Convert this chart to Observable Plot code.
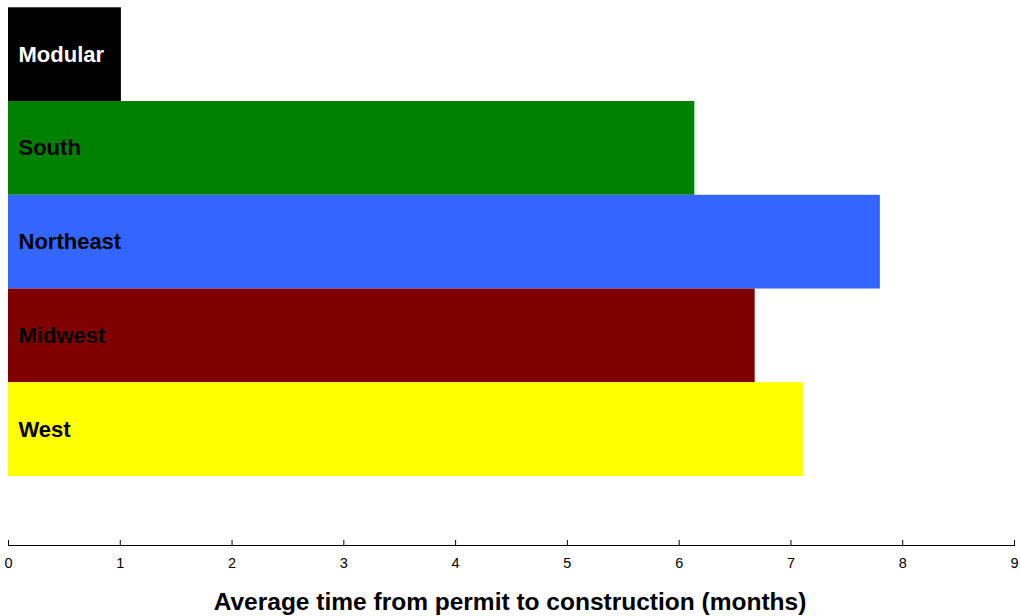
<!DOCTYPE html>
<html>
<head>
<meta charset="utf-8">
<script src="https://cdn.jsdelivr.net/npm/d3@7"></script>
<script src="https://cdn.jsdelivr.net/npm/@observablehq/plot@0.6"></script>
<style>
  body { margin: 0; background: #fff; font-family: "Liberation Sans", Arial, sans-serif; }
  #title { width: 1020px; text-align: center; font-weight: bold; font-size: 24.5px; line-height: 28px; color: #000; }
</style>
</head>
<body>
<div id="chart"></div>
<div id="title">Average time from permit to construction (months)</div>
<script>
const regions = ["Modular", "South", "Northeast", "Midwest", "West"];
const months = [1.01, 6.14, 7.8, 6.68, 7.11];
const barColors = ["#000000", "#008000", "#3366ff", "#800000", "#ffff00"];
const labelColors = ["#ffffff", "#000000", "#000000", "#000000", "#000000"];
const xTicks = [0, 1, 2, 3, 4, 5, 6, 7, 8, 9];

const data = regions.map((r, i) => ({region: r, value: months[i], fill: barColors[i], label: labelColors[i]}));

const chart = Plot.plot({
  width: 1020,
  height: 588,
  marginLeft: 8,
  marginRight: 6,
  marginTop: 0,
  marginBottom: 43,
  style: {fontFamily: "'Liberation Sans', Arial, sans-serif", background: "#fff"},
  x: {domain: [0, 9], axis: null},
  y: {domain: regions, range: [7.3, 476], padding: 0, round: false, axis: null},
  marks: [
    Plot.barX(data, {x: "value", y: "region", fill: "fill"}),
    Plot.text(data, {x: 0, y: "region", text: "region", fill: "label", textAnchor: "start", dx: 10, fontSize: 22, fontWeight: "bold"}),
    Plot.frame({anchor: "bottom", stroke: "#000"}),
    Plot.axisX(xTicks, {anchor: "bottom", tickSize: -5, tickFormat: () => "", label: null, stroke: "#000"}),
    Plot.text(xTicks, {x: d => d, text: d => String(d), frameAnchor: "bottom", dy: 22.5, fontSize: 14.5, fill: "#000"})
  ]
});
document.getElementById("chart").appendChild(chart);
</script>
</body>
</html>
